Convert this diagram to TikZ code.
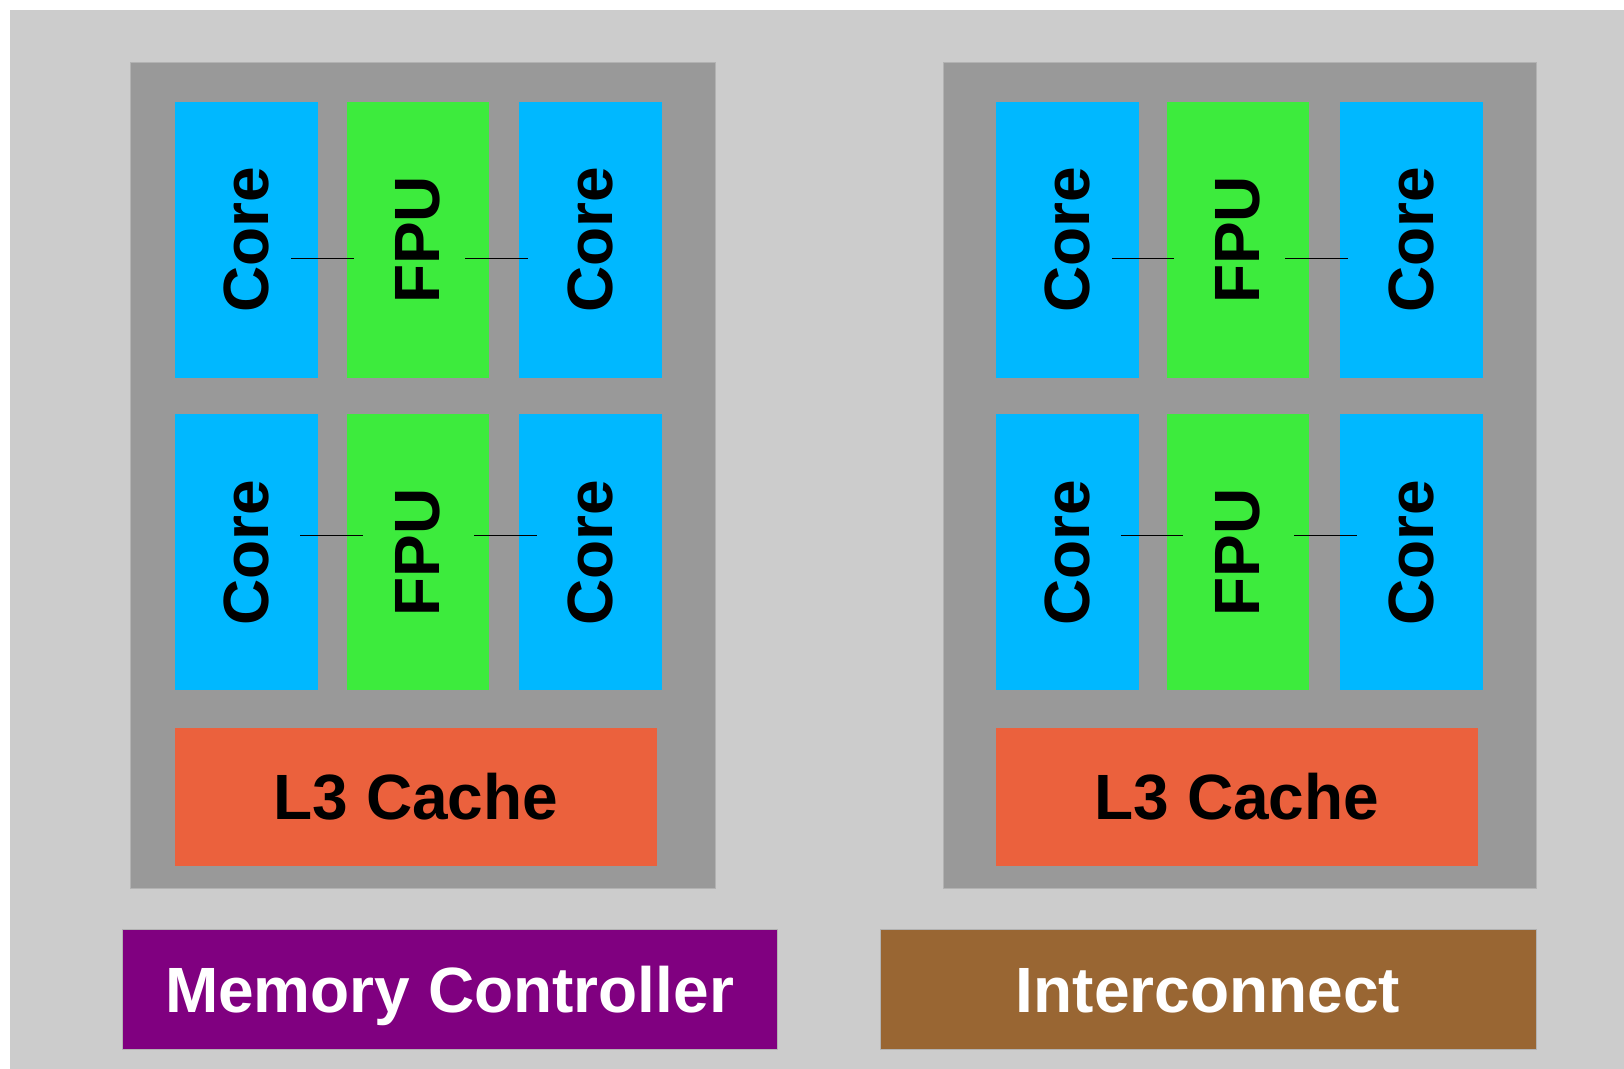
\documentclass[tikz,border=0pt]{standalone}
\usepackage{fontspec}
\setmainfont{Liberation Sans}
\usepackage{xcolor}

\definecolor{corecol}{HTML}{00B8FF}
\definecolor{fpucol}{HTML}{3DEB3D}
\definecolor{cachecol}{HTML}{EB613D}
\definecolor{memcol}{HTML}{800080}
\definecolor{linkcol}{HTML}{996633}
\definecolor{diecol}{HTML}{999999}
\definecolor{chipcol}{HTML}{CCCCCC}

\begin{document}
\begin{tikzpicture}[x=0.5pt, y=-0.5pt, every node/.style={
    rectangle,
    inner sep=0pt,
    font=\bfseries\fontsize{32}{38}\selectfont
},
    die/.style={fill=diecol, draw=black!30, line width=0.5pt, minimum height=412.5pt},
    core/.style={fill=corecol, minimum width=71.5pt, minimum height=138pt},
    fpu/.style={fill=fpucol, minimum width=71pt, minimum height=138pt},
    cache/.style={fill=cachecol, minimum width=241pt, minimum height=69pt},
    bus/.style={text=white, draw=black!30, line width=0.5pt, minimum height=60pt, text height=23pt, text depth=0pt},
    link/.style={black, line width=0.5pt}
]
    \useasboundingbox (0, 0) rectangle (1624, 1069);
    \fill[chipcol] (10, 10) rectangle (1624, 1069);

    %dies
    \node (left_die) [die, minimum width=292.5pt] at (422.5, 475.5) {};
    \node (right_die) [die, minimum width=296.5pt] at (1239.5, 475.5) {};

    %left die
    \node (left_core_1) [core] at (246.5, 240) {\rotatebox{90}{Core}};
    \node (left_fpu_1) [fpu] at (418, 240) {\rotatebox{90}{FPU}};
    \node (left_core_2) [core] at (590.5, 240) {\rotatebox{90}{Core}};

    \node (left_core_3) [core] at (246.5, 552.5) {\rotatebox{90}{Core}};
    \node (left_fpu_2) [fpu] at (418, 552.5) {\rotatebox{90}{FPU}};
    \node (left_core_4) [core] at (590.5, 552.5) {\rotatebox{90}{Core}};

    \node (left_cache) [cache] at (416, 797) {L3 Cache};

    %right die
    \node (right_core_1) [core] at (1067, 240) {\rotatebox{90}{Core}};
    \node (right_fpu_1) [fpu] at (1238, 240) {\rotatebox{90}{FPU}};
    \node (right_core_2) [core] at (1411, 240) {\rotatebox{90}{Core}};

    \node (right_core_3) [core] at (1067, 552.5) {\rotatebox{90}{Core}};
    \node (right_fpu_2) [fpu] at (1238, 552.5) {\rotatebox{90}{FPU}};
    \node (right_core_4) [core] at (1411, 552.5) {\rotatebox{90}{Core}};

    \node (right_cache) [cache] at (1237, 797) {L3 Cache};

    %buses
    \node (memory_controller) [bus, fill=memcol, minimum width=327.5pt] at (449.5, 989)
    {
        Memory Controller
    };
    \node (interconnect) [bus, fill=linkcol, minimum width=328pt] at (1208, 989)
    {
        Interconnect
    };

    %left die
    \draw[link] ([xshift=-13.5pt, yshift=-9.5pt]left_core_1.east) to ([xshift=3.5pt, yshift=-9.5pt]left_fpu_1.west);
    \draw[link] ([xshift=-12pt, yshift=-9.5pt]left_fpu_1.east) to ([xshift=4.5pt, yshift=-9.5pt]left_core_2.west);
    \draw[link] ([xshift=-9pt, yshift=8.25pt]left_core_3.east) to ([xshift=8pt, yshift=8.25pt]left_fpu_2.west);
    \draw[link] ([xshift=-7.5pt, yshift=8.25pt]left_fpu_2.east) to ([xshift=9pt, yshift=8.25pt]left_core_4.west);

    %right die
    \draw[link] ([xshift=-13.5pt, yshift=-9.5pt]right_core_1.east) to ([xshift=3.5pt, yshift=-9.5pt]right_fpu_1.west);
    \draw[link] ([xshift=-12pt, yshift=-9.5pt]right_fpu_1.east) to ([xshift=4.5pt, yshift=-9.5pt]right_core_2.west);
    \draw[link] ([xshift=-9pt, yshift=8.25pt]right_core_3.east) to ([xshift=8pt, yshift=8.25pt]right_fpu_2.west);
    \draw[link] ([xshift=-7.5pt, yshift=8.25pt]right_fpu_2.east) to ([xshift=9pt, yshift=8.25pt]right_core_4.west);

\end{tikzpicture}
\end{document}
